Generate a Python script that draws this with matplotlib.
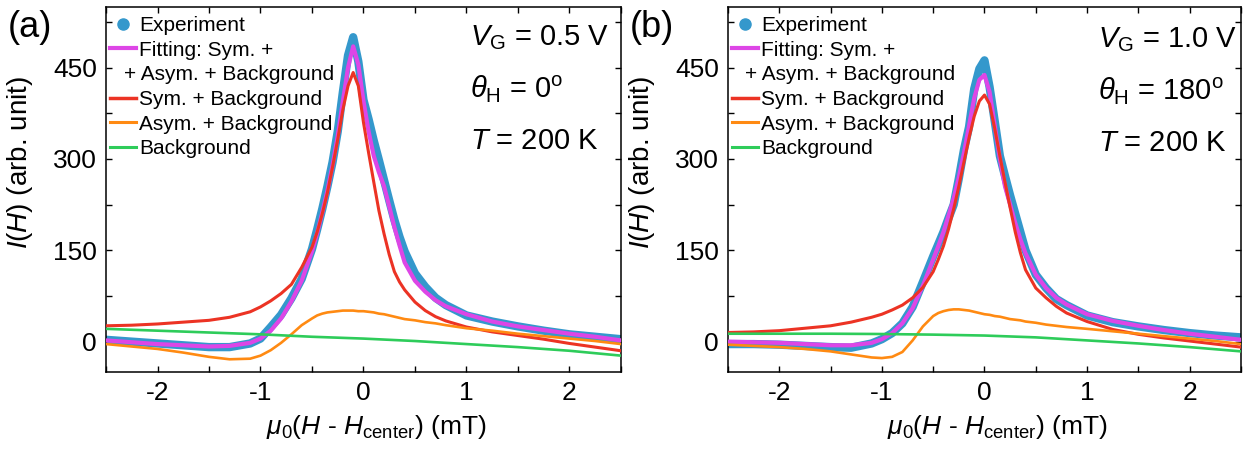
import matplotlib
matplotlib.use("Agg")
import matplotlib.pyplot as plt
import matplotlib.transforms as mtransforms
from matplotlib.lines import Line2D
from matplotlib.ticker import MultipleLocator

plt.rcParams['font.family'] = ['Liberation Sans', 'DejaVu Sans']
plt.rcParams['mathtext.fontset'] = 'custom'
plt.rcParams['mathtext.rm'] = 'Liberation Sans'
plt.rcParams['mathtext.it'] = 'Liberation Sans:italic'
plt.rcParams['mathtext.bf'] = 'Liberation Sans:bold'

# ---------------- data ----------------
x_grid = [-2.5, -2.25, -2.0, -1.75, -1.5, -1.3, -1.1, -1.0, -0.9, -0.8, -0.7, -0.6,
          -0.5, -0.45, -0.4, -0.35, -0.3, -0.25, -0.2, -0.15, -0.1, -0.05, 0.0,
          0.05, 0.1, 0.15, 0.2, 0.25, 0.3, 0.35, 0.4, 0.5, 0.6, 0.7, 0.8,
          1.0, 1.25, 1.5, 1.75, 2.0, 2.25, 2.5]

# panel (a): V_G = 0.5 V, theta_H = 0
a_exp = [3, 0, -3, -6, -9, -9, -3, 5, 24, 44, 71, 103,
         152, 184, 218, 255, 295, 345, 410, 470, 500, 460, 397,
         365, 330, 298, 265, 232, 200, 172, 148, 112, 90, 72, 60,
         43, 33, 25, 18, 12, 8, 4]
a_fit = [2, -1, -4, -6, -8, -7, -2, 5, 18, 38, 66, 100,
         148, 178, 212, 248, 290, 338, 395, 450, 485, 455, 395,
         345, 305, 278, 255, 222, 188, 158, 130, 100, 82, 68, 58,
         45, 33, 25, 19, 13, 8, 2]
a_sym = [26, 27, 29, 32, 35, 40, 49, 57, 67, 79, 94, 122,
         155, 180, 210, 245, 287, 332, 381, 420, 442, 420, 360,
         310, 262, 215, 177, 143, 115, 98, 85, 65, 51, 41, 34,
         24, 16, 10, 4, -3, -9, -15]
a_asym = [-4, -8, -12, -18, -25, -29, -28, -23, -14, -2, 12, 27,
          38, 43, 46, 48, 49, 50, 51, 51, 51, 50, 50,
          49, 48, 46, 45, 43, 41, 39, 37, 35, 32, 30, 27,
          22, 18, 13, 9, 5, 1, -4]
bg_x = [-2.5, -2.0, -1.5, -1.0, -0.5, 0.0, 0.5, 1.0, 1.5, 2.0, 2.5]
a_bg = [21, 18, 15, 12, 8, 5, 1, -4, -9, -15, -23]

# panel (b): V_G = 1.0 V, theta_H = 180
b_exp = [-4, -4, -5, -7, -9, -10, -3, 4, 14, 30, 57, 98,
         140, 160, 180, 203, 225, 268, 315, 353, 415, 448, 462,
         418, 362, 305, 272, 240, 210, 180, 150, 110, 88, 70, 60,
         43, 32, 25, 19, 14, 10, 7]
b_fit = [0, -1, -2, -4, -6, -6, -2, 4, 14, 30, 55, 92,
         135, 157, 180, 207, 235, 270, 310, 355, 400, 430, 438,
         410, 355, 300, 255, 225, 195, 168, 145, 110, 88, 72, 61,
         45, 34, 26, 19, 13, 8, 3]
b_sym = [15, 16, 18, 22, 26, 32, 40, 45, 52, 60, 72, 89,
         115, 135, 157, 185, 218, 255, 295, 335, 370, 395, 405,
         390, 350, 305, 262, 220, 180, 146, 118, 88, 72, 58, 47,
         33, 20, 12, 6, 1, -4, -9]
b_asym = [-5, -7, -9, -12, -16, -21, -26, -27, -25, -17, 2, 25,
          42, 47, 50, 52, 53, 53, 52, 51, 49, 47, 45,
          44, 42, 41, 39, 37, 36, 35, 33, 31, 28, 26, 24,
          21, 17, 13, 9, 5, 1, -4]
b_bg = [13, 13, 13, 12.5, 11.5, 10, 7, 2, -3, -9, -16]

panel_labels = ['(a)', '(b)']
annot = [
    [r'$V_{\rm G}$ = 0.5 V', r'$\theta_{\rm H}$ = 0$^{\rm o}$', r'$T$ = 200 K'],
    [r'$V_{\rm G}$ = 1.0 V', r'$\theta_{\rm H}$ = 180$^{\rm o}$', r'$T$ = 200 K'],
]
legend_labels = ['Experiment', 'Fitting: Sym. +', '+ Asym. + Background',
                 'Sym. + Background', 'Asym. + Background', 'Background']
x_ticks = [-2, -1, 0, 1, 2]
y_ticks = [0, 150, 300, 450]

# ---------------- style ----------------
C_EXP = '#3498cc'
C_FIT = '#dd46e6'
C_SYM = '#ec3324'
C_ASYM = '#ff8a12'
C_BG = '#2ecc5a'

fig = plt.figure(figsize=(12.59, 4.51), dpi=100)
axes = [fig.add_axes([0.0842, 0.175, 0.409, 0.81]),
        fig.add_axes([0.5782, 0.175, 0.4075, 0.81])]

data = [(a_exp, a_fit, a_sym, a_asym, a_bg), (b_exp, b_fit, b_sym, b_asym, b_bg)]
ann_x = [0.707, 0.721]
ann_y = [[0.896, 0.751, 0.610], [0.888, 0.745, 0.605]]
shift_px = [-15, -16]
fig_lab_x = [8 / 1259, 630 / 1259]

for i, ax in enumerate(axes):
    exp, fit, sym, asym, bg = data[i]
    ax.plot(x_grid, exp, color=C_EXP, lw=6.0, solid_capstyle='round',
            solid_joinstyle='round', zorder=2)
    ax.plot(x_grid, fit, color=C_FIT, lw=3.0, solid_joinstyle='round', zorder=3)
    ax.plot(x_grid, sym, color=C_SYM, lw=2.2, solid_joinstyle='round', zorder=4)
    ax.plot(x_grid, asym, color=C_ASYM, lw=1.9, solid_joinstyle='round', zorder=5)
    ax.plot(bg_x, bg, color=C_BG, lw=1.9, zorder=6)

    ax.set_xlim(-2.5, 2.5)
    ax.set_ylim(-50, 550)
    ax.set_xticks(x_ticks)
    ax.set_xticklabels([str(t) for t in x_ticks])
    ax.set_yticks(y_ticks)
    ax.xaxis.set_minor_locator(MultipleLocator(0.5))
    ax.yaxis.set_minor_locator(MultipleLocator(75))
    ax.tick_params(which='both', direction='in', top=True, right=True,
                   width=1.0, labelsize=19, pad=6.5)
    ax.tick_params(which='major', length=4.5)
    ax.tick_params(which='minor', length=4.5)
    for s in ax.spines.values():
        s.set_linewidth(1.1)

    ax.set_xlabel(r'$\mu_0$($H$ - $H_{\rm center}$) (mT)', fontsize=19)
    ax.xaxis.set_label_coords(0.524, -0.113)
    ax.set_ylabel(r'$I$($H$) (arb. unit)', fontsize=20)
    ax.yaxis.set_label_coords(-0.138, 0.575)

    for txt, yy in zip(annot[i], ann_y[i]):
        ax.text(ann_x[i], yy, txt, transform=ax.transAxes, fontsize=21,
                ha='left', va='baseline')

    handles = [
        Line2D([], [], color=C_EXP, marker='o', ls='', ms=8),
        Line2D([], [], color=C_FIT, lw=3.0),
        Line2D([], [], color='none', lw=0),
        Line2D([], [], color=C_SYM, lw=2.5),
        Line2D([], [], color=C_ASYM, lw=2.2),
        Line2D([], [], color=C_BG, lw=2.2),
    ]
    leg = ax.legend(handles, legend_labels, loc='upper left', frameon=False,
                    fontsize=15, handlelength=1.25, handletextpad=0.15,
                    labelspacing=0.27, borderaxespad=0.0, borderpad=0.1,
                    bbox_to_anchor=(0.004, 0.980))
    t = leg.get_texts()[2]
    t.set_transform(t.get_transform() +
                    mtransforms.ScaledTranslation(shift_px[i] / 100, 0,
                                                  fig.dpi_scale_trans))

    fig.text(fig_lab_x[i], 0.938, panel_labels[i], fontsize=26,
             ha='left', va='center')

fig.savefig('out.png', dpi=100)
